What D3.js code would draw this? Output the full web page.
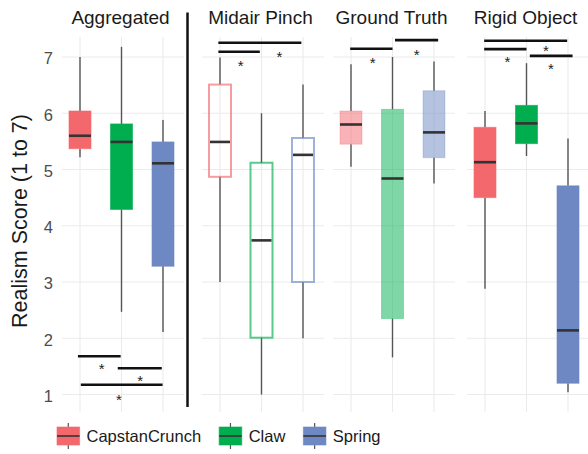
<!DOCTYPE html>
<html><head><meta charset="utf-8">
<script src="https://cdn.jsdelivr.net/npm/d3@7"></script>
<style>body{margin:0;background:#fff}</style></head>
<body>
<script>
const categories = ["CapstanCrunch", "Claw", "Spring"];
const colors = ["#F3686D", "#00AD4F", "#6D88C2"];
const panelTitles = ["Aggregated", "Midair Pinch", "Ground Truth", "Rigid Object"];
const panelStyles = ["solid", "outline", "light", "solid"];
const yTicks = [1, 2, 3, 4, 5, 6, 7];
const yLabel = "Realism Score (1 to 7)";

// box stats per category: [whiskerLow, q1, median, q3, whiskerHigh]
const aggregatedStats = [[5.22, 5.37, 5.60, 6.04, 7.00], [2.47, 4.29, 5.49, 5.81, 7.18], [2.11, 3.28, 5.11, 5.49, 5.88]];
const midairStats     = [[3.00, 4.87, 5.49, 6.51, 6.99], [1.00, 2.01, 3.74, 5.12, 6.00], [2.00, 3.00, 5.26, 5.56, 6.51]];
const groundStats     = [[5.05, 5.45, 5.80, 6.04, 6.87], [1.66, 2.35, 4.84, 6.07, 7.00], [4.75, 5.21, 5.66, 6.40, 6.92]];
const rigidStats      = [[2.88, 4.50, 5.13, 5.75, 6.04], [5.24, 5.46, 5.82, 6.14, 6.89], [1.04, 1.20, 2.14, 4.71, 5.55]];

// significance brackets: from/to in category units (1..3), value on y scale
const aggregatedSig = [{from: 0.95, to: 1.98, value: 1.68}, {from: 1.91, to: 2.97, value: 1.466}, {from: 1.02, to: 2.99, value: 1.174}];
const midairSig     = [{from: 0.96, to: 2.96, value: 7.254}, {from: 0.96, to: 1.96, value: 7.094}];
const groundSig     = [{from: 0.98, to: 2.0, value: 7.148}, {from: 2.06, to: 3.1, value: 7.30}];
const rigidSig      = [{from: 0.98, to: 2.98, value: 7.29}, {from: 0.98, to: 2.0, value: 7.14}, {from: 2.08, to: 3.11, value: 7.02}];

const aggregatedStars = [{at: 1.52, value: 1.507}, {at: 2.45, value: 1.293}, {at: 1.94, value: 0.95}];
const midairStars     = [{at: 1.5, value: 6.90}, {at: 2.43, value: 7.05}];
const groundStars     = [{at: 1.52, value: 6.947}, {at: 2.58, value: 7.094}];
const rigidStars      = [{at: 1.54, value: 6.96}, {at: 2.47, value: 7.165}, {at: 2.59, value: 6.845}];

const allStats = [aggregatedStats, midairStats, groundStats, rigidStats];
const allSig = [aggregatedSig, midairSig, groundSig, rigidSig];
const allStars = [aggregatedStars, midairStars, groundStars, rigidStars];

const W = 588, H = 454;
const panelLefts = [62, 202, 333, 467];
const panelWidth = 122;
const panelTop = 37, panelBottom = 412;
const boxW = 22;
const font = "'Liberation Sans', Arial, sans-serif";

const svg = d3.select("body").append("svg").attr("width", W).attr("height", H)
  .style("font-family", font);

const y = d3.scaleLinear().domain([1, 7]).range([394.5, 57]);

// y axis labels
const yAxis = d3.axisLeft(y).tickValues(yTicks).tickSize(0).tickPadding(9).tickFormat(d3.format("d"));
const ya = svg.append("g").attr("transform", "translate(62,1.5)").call(yAxis);
ya.select(".domain").remove();
ya.selectAll("text").attr("fill", "#4D4D4D").style("font-size", "16.5px").style("font-family", font);

svg.append("text").attr("transform", "translate(27,221) rotate(-90)")
  .attr("text-anchor", "middle").attr("fill", "#1A1A1A").style("font-size", "21.5px").text(yLabel);

panelTitles.forEach((title, p) => {
  const left = panelLefts[p];
  const x = d3.scalePoint().domain(categories).range([left + 18, left + 101]);
  const xu = u => x(categories[0]) + (u - 1) * x.step();
  const g = svg.append("g");

  // gridlines
  g.selectAll(".hg").data(yTicks).join("line")
    .attr("x1", left).attr("x2", left + panelWidth)
    .attr("y1", d => y(d)).attr("y2", d => y(d))
    .attr("stroke", "#EBEBEB").attr("stroke-width", 1.1);
  g.selectAll(".vg").data(categories).join("line")
    .attr("x1", d => x(d)).attr("x2", d => x(d))
    .attr("y1", panelTop).attr("y2", panelBottom)
    .attr("stroke", "#EBEBEB").attr("stroke-width", 1.1);

  // title
  svg.append("text").attr("x", x(categories[1]) - 1).attr("y", 24)
    .attr("text-anchor", "middle").attr("fill", "#1A1A1A").style("font-size", "19px").text(title);

  const style = panelStyles[p];
  const stats = allStats[p];
  stats.forEach((s, i) => {
    const cx = x(categories[i]);
    const col = colors[i];
    // whiskers
    g.append("line").attr("x1", cx).attr("x2", cx).attr("y1", y(s[3])).attr("y2", y(s[4]))
      .attr("stroke", "#555").attr("stroke-width", 1.4);
    g.append("line").attr("x1", cx).attr("x2", cx).attr("y1", y(s[0])).attr("y2", y(s[1]))
      .attr("stroke", "#555").attr("stroke-width", 1.4);
    // box
    const r = g.append("rect").attr("x", cx - boxW / 2).attr("width", boxW)
      .attr("y", y(s[3])).attr("height", y(s[1]) - y(s[3]));
    if (style === "solid") {
      r.attr("fill", col).attr("stroke", col).attr("stroke-opacity", 0.6).attr("stroke-width", 1);
    } else if (style === "light") {
      r.attr("fill", col).attr("fill-opacity", 0.5).attr("stroke", col).attr("stroke-opacity", 0.3).attr("stroke-width", 1);
    } else {
      r.attr("fill", "none").attr("stroke", col).attr("stroke-opacity", 0.65).attr("stroke-width", 2);
    }
    // median
    g.append("line").attr("x1", cx - boxW / 2 + (style === "outline" ? 1 : 0)).attr("x2", cx + boxW / 2 - (style === "outline" ? 1 : 0))
      .attr("y1", y(s[2])).attr("y2", y(s[2]))
      .attr("stroke", "#333").attr("stroke-width", 2.6);
  });

  // significance brackets
  g.selectAll(".sig").data(allSig[p]).join("line")
    .attr("x1", d => xu(d.from)).attr("x2", d => xu(d.to))
    .attr("y1", d => y(d.value)).attr("y2", d => y(d.value))
    .attr("stroke", "#111").attr("stroke-width", 2.6);
  g.selectAll(".star").data(allStars[p]).join("text")
    .attr("x", d => xu(d.at)).attr("y", d => y(d.value) + 8)
    .attr("text-anchor", "middle").attr("fill", "#222").style("font-size", "15px").text("*");
});

// divider
svg.append("line").attr("x1", 187.5).attr("x2", 187.5).attr("y1", 12.5).attr("y2", 407)
  .attr("stroke", "#111").attr("stroke-width", 2.5);

// legend
const lg = svg.append("g").attr("transform", "translate(57,0)");
let lx = 0;
categories.forEach((c, i) => {
  const item = lg.append("g").attr("transform", `translate(${lx},0)`);
  item.append("line").attr("x1", 11.3).attr("x2", 11.3).attr("y1", 423).attr("y2", 449)
    .attr("stroke", "#555").attr("stroke-width", 1.2);
  item.append("rect").attr("x", 0).attr("y", 427).attr("width", 22.6).attr("height", 18)
    .attr("fill", colors[i]).attr("stroke", colors[i]).attr("stroke-opacity", 0.6);
  item.append("line").attr("x1", 0).attr("x2", 22.6).attr("y1", 436).attr("y2", 436)
    .attr("stroke", "#333").attr("stroke-width", 1.6);
  const t = item.append("text").attr("x", 29.5).attr("y", 442).attr("fill", "#1A1A1A")
    .style("font-size", "16.5px").text(c);
  lx += 29.5 + t.node().getComputedTextLength() + 18;
});
</script>
</body></html>
